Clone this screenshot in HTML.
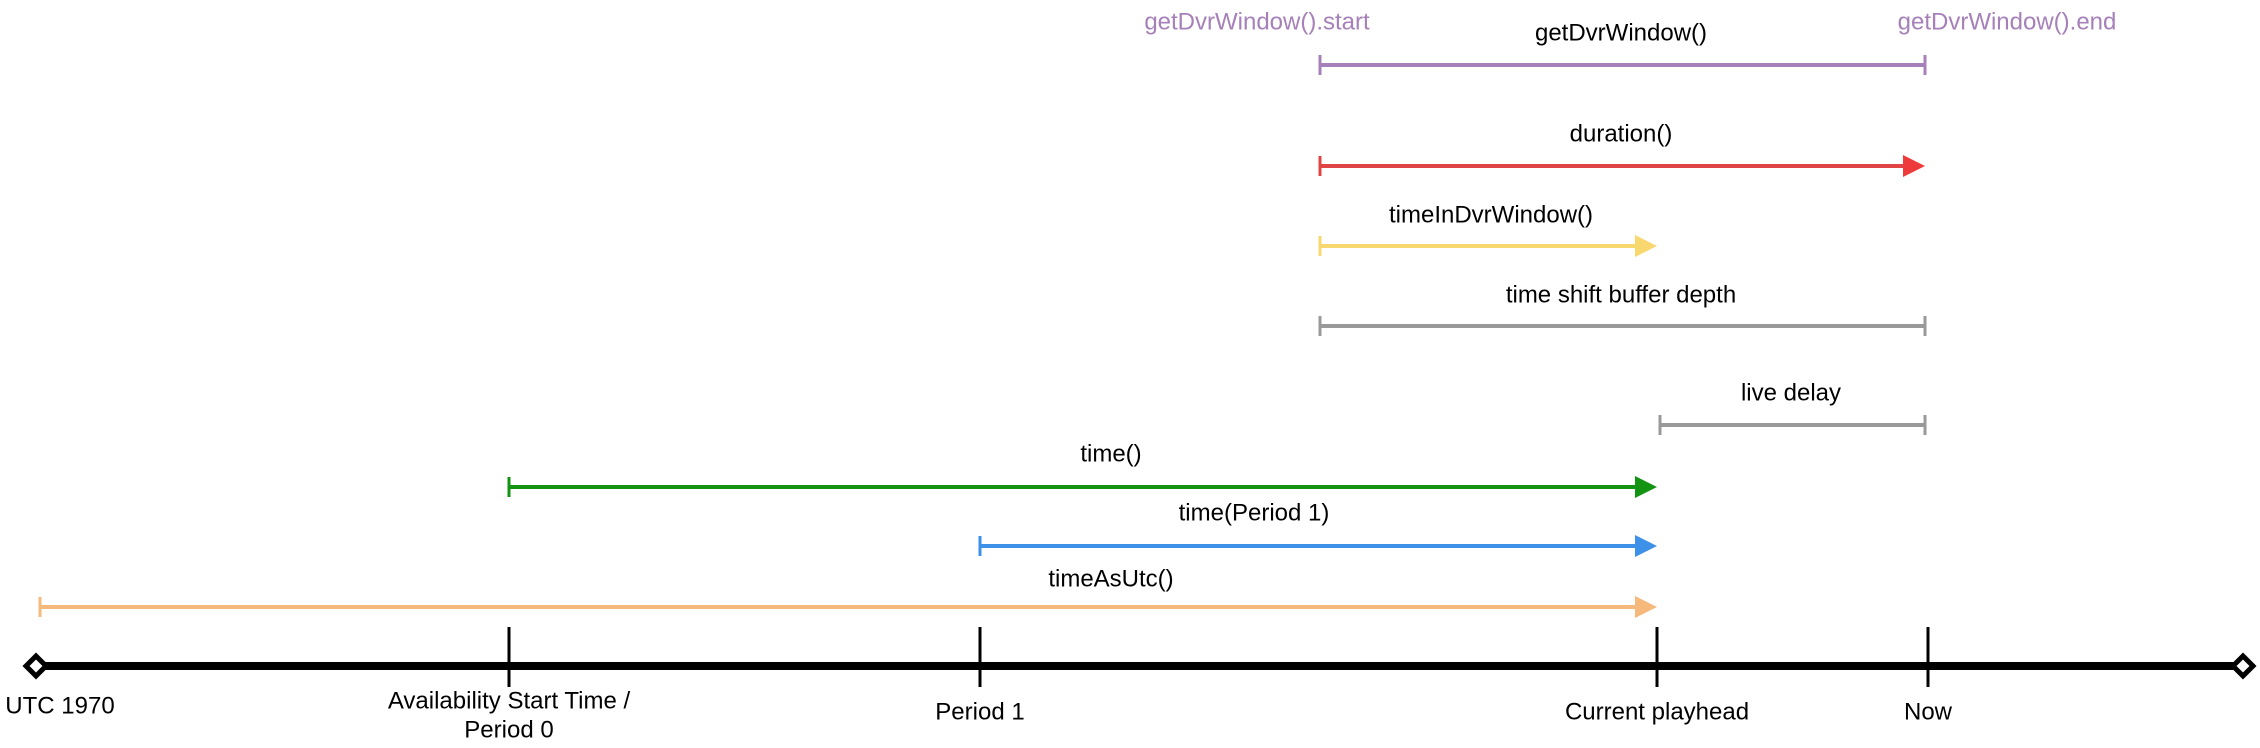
<!DOCTYPE html>
<html><head><meta charset="utf-8"><style>
html,body{margin:0;padding:0;background:#fff;}
svg{display:block;}
text{font-family:"Liberation Sans",Arial,sans-serif;font-size:24px;text-anchor:middle;dominant-baseline:middle;fill:#000;}
</style></head><body>
<svg width="2260" height="748" viewBox="0 0 2260 748" xmlns="http://www.w3.org/2000/svg">
<line x1="40" y1="666" x2="2239" y2="666" stroke="#000" stroke-width="8"/>
<polygon points="36,656 46,666 36,676 26,666" fill="#fff" stroke="#000" stroke-width="5"/>
<polygon points="2243,656 2253,666 2243,676 2233,666" fill="#fff" stroke="#000" stroke-width="5"/>
<g stroke="#000" stroke-width="3">
<line x1="509" y1="627" x2="509" y2="687"/>
<line x1="980" y1="627" x2="980" y2="687"/>
<line x1="1657" y1="627" x2="1657" y2="687"/>
<line x1="1928" y1="627" x2="1928" y2="687"/>
</g>
<text x="60" y="707">UTC 1970</text>
<text x="509" y="702">Availability Start Time /</text>
<text x="509" y="731">Period 0</text>
<text x="980" y="713">Period 1</text>
<text x="1657" y="713">Current playhead</text>
<text x="1928" y="713">Now</text>

<g stroke="#a680b8" stroke-width="4">
<line x1="1320" y1="65" x2="1925" y2="65"/>
<line x1="1320" y1="55" x2="1320" y2="75" stroke-width="3"/>
<line x1="1925" y1="55" x2="1925" y2="75" stroke-width="3"/>
</g>
<text x="1257" y="23" style="fill:#a680b8">getDvrWindow().start</text>
<text x="1621" y="34">getDvrWindow()</text>
<text x="2007" y="23" style="fill:#a680b8">getDvrWindow().end</text>

<line x1="1320" y1="166" x2="1905" y2="166" stroke="#e04444" stroke-width="4"/>
<line x1="1320" y1="156" x2="1320" y2="176" stroke="#e04444" stroke-width="3"/>
<polygon points="1903,155 1925,166 1903,177" fill="#ee3a3a"/>
<text x="1621" y="135">duration()</text>

<line x1="1320" y1="246" x2="1637" y2="246" stroke="#f8d86e" stroke-width="4"/>
<line x1="1320" y1="236" x2="1320" y2="256" stroke="#f8d86e" stroke-width="3"/>
<polygon points="1635,235 1657,246 1635,257" fill="#f8d86e"/>
<text x="1491" y="216">timeInDvrWindow()</text>

<g stroke="#999" stroke-width="4">
<line x1="1320" y1="326" x2="1925" y2="326"/>
<line x1="1320" y1="316" x2="1320" y2="336" stroke-width="3"/>
<line x1="1925" y1="316" x2="1925" y2="336" stroke-width="3"/>
<line x1="1660" y1="425" x2="1925" y2="425"/>
<line x1="1660" y1="415" x2="1660" y2="435" stroke-width="3"/>
<line x1="1925" y1="415" x2="1925" y2="435" stroke-width="3"/>
</g>
<text x="1621" y="296">time shift buffer depth</text>
<text x="1791" y="394">live delay</text>

<line x1="509" y1="487" x2="1637" y2="487" stroke="#129412" stroke-width="4"/>
<line x1="509" y1="477" x2="509" y2="497" stroke="#129412" stroke-width="3"/>
<polygon points="1635,476 1657,487 1635,498" fill="#129412"/>
<text x="1111" y="455">time()</text>

<line x1="980" y1="546" x2="1637" y2="546" stroke="#3d91e8" stroke-width="4"/>
<line x1="980" y1="536" x2="980" y2="556" stroke="#3d91e8" stroke-width="3"/>
<polygon points="1635,535 1657,546 1635,557" fill="#3d91e8"/>
<text x="1254" y="514">time(Period 1)</text>

<line x1="40" y1="607" x2="1637" y2="607" stroke="#f5b97c" stroke-width="4"/>
<line x1="40" y1="597" x2="40" y2="617" stroke="#f5b97c" stroke-width="3"/>
<polygon points="1635,596 1657,607 1635,618" fill="#f5b97c"/>
<text x="1111" y="580">timeAsUtc()</text>
</svg>
</body></html>
